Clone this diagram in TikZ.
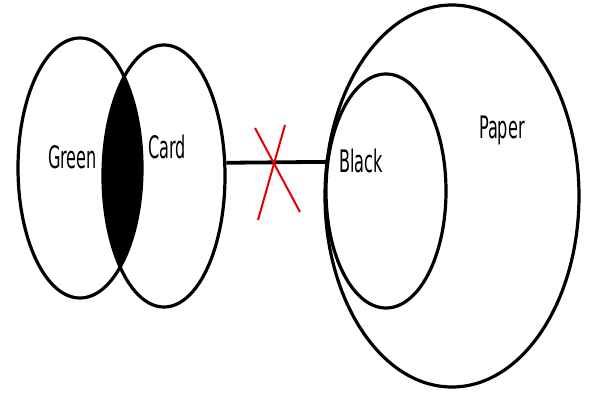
\documentclass[tikz,border=0pt]{standalone}
\usepackage{fontspec}
\setmainfont{DejaVu Sans}
\usetikzlibrary{shapes.geometric}

\tikzset{
  set/.style={draw, ellipse, line width=3.2pt, inner sep=0pt},
  setlabel/.style={anchor=base west, xscale=0.52, font=\fontsize{31}{31}\selectfont, inner sep=0pt}
}

\begin{document}
\begin{tikzpicture}[x=1pt, y=-1pt]
    \useasboundingbox (0, 0) rectangle (590, 399);

    % shaded overlap of green and card
    \begin{scope}
        \clip (80, 168) ellipse [x radius=62, y radius=130];
        \fill (164, 176) ellipse [x radius=61, y radius=131];
    \end{scope}

    \node[set, minimum width=124pt, minimum height=260pt] (green) at (80, 168) {};
    \node[set, minimum width=122pt, minimum height=262pt] (card) at (164, 176) {};
    \node[set, minimum width=254pt, minimum height=382pt] (paper) at (452, 196) {};
    \node[set, minimum width=120pt, minimum height=234pt] (black) at (386, 191) {};

    \node[setlabel] (greenlabel) at (48, 168) {Green};
    \node[setlabel] (cardlabel) at (148, 158) {Card};
    \node[setlabel] (blacklabel) at (339, 172) {Black};
    \node[setlabel] (paperlabel) at (479, 138) {Paper};

    \draw[line width=3.8pt] (card.12) -- (black.154);

    % crossed out
    \draw[red!90!black, line width=2pt] (255, 128) -- (300, 212);
    \draw[red!90!black, line width=2pt] (285, 125) -- (258, 220);
\end{tikzpicture}
\end{document}
